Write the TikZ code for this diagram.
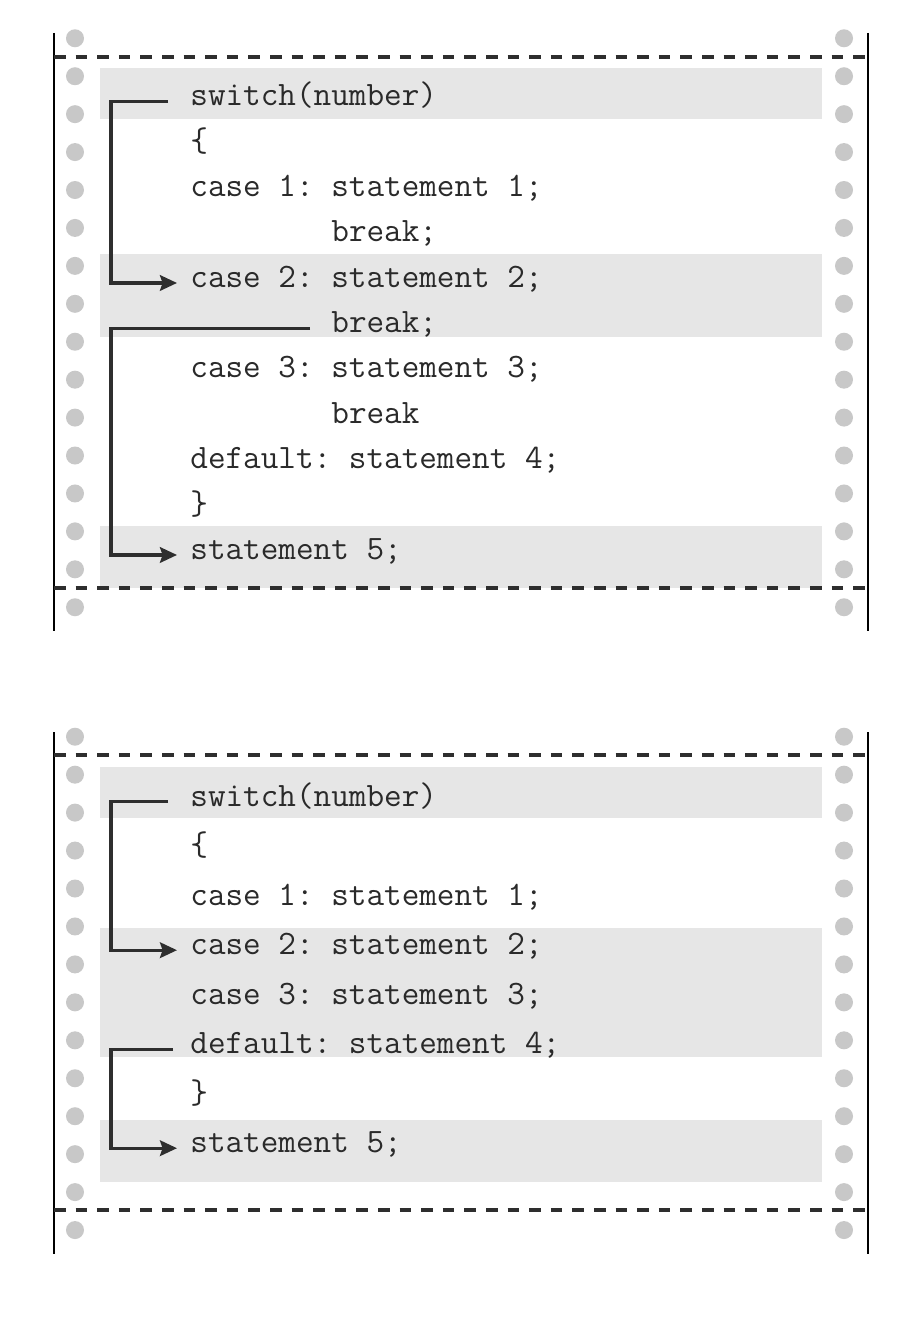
\documentclass[tikz,border=0pt]{standalone}
\usepackage{fontspec}
\setmonofont{Latin Modern Mono}
\usetikzlibrary{arrows.meta}
\definecolor{band}{HTML}{E6E6E6}
\definecolor{dotc}{HTML}{C8C8C8}
\definecolor{ink}{HTML}{2E2E2E}
\definecolor{txt}{HTML}{2A2A2A}
\tikzset{
  code/.style={font=\ttfamily\fontsize{17.1}{19}\selectfont, text=txt, anchor=base west, inner xsep=6.5pt, inner ysep=0pt},
  conn/.style={draw=ink, line width=1.6pt, -{Stealth[length=8.5pt,width=7.8pt,inset=1.3pt]}},
  edge/.style={draw=black, line width=1.3pt},
  perf/.style={draw=ink, line width=1.9pt, dash pattern=on 5.8pt off 5pt},
  hole/.style={fill=dotc, draw=none},
  bandbox/.style={fill=band, draw=none}
}
\begin{document}
\begin{tikzpicture}[x=0.5pt,y=-0.5pt]
\useasboundingbox (0,0) rectangle (914,1331);
\fill[white] (0,0) rectangle (914,1331);
% ---------- top panel ----------
\fill[bandbox] (100,68) rectangle (822,119);
\fill[bandbox] (100,254) rectangle (822,337);
\fill[bandbox] (100,526) rectangle (822,588);
\foreach \k in {0,...,15}{
  \fill[hole] (75,38.3+37.93*\k) circle (9);
  \fill[hole] (844,38.3+37.93*\k) circle (9);
}
\draw[edge] (54,33) -- (54,631);
\draw[edge] (868,33) -- (868,631);
\draw[perf] (54,57) -- (868,57);
\draw[perf] (54,588) -- (868,588);

\node[code] (t1) at (177,106) {switch(number)};
\node[code] (t2) at (177,151.3) {\{};
\node[code] (t3) at (177,196.6) {case 1: statement 1;};
\node[code] (t4) at (318,242) {break;};
\node[code] (t5) at (177,287.3) {case 2: statement 2;};
\node[code] (t6) at (318,332.6) {break;};
\node[code] (t7) at (177,378) {case 3: statement 3;};
\node[code] (t8) at (318,423.3) {break};
\node[code] (t9) at (177,468.6) {default: statement 4;};
\node[code] (t10) at (177,514) {\}};
\node[code] (t11) at (177,559.3) {statement 5;};

\draw[conn] ([xshift=-4.5pt]t1.mid west) -- ([xshift=-33pt]t1.mid west) |- (t5.mid west);
\draw[conn] ([xshift=-4pt]t6.mid west) -- ([xshift=-103.5pt]t6.mid west) |- (t11.mid west);

% ---------- bottom panel ----------
\fill[bandbox] (100,767) rectangle (822,818);
\fill[bandbox] (100,928) rectangle (822,1057);
\fill[bandbox] (100,1120) rectangle (822,1182);
\foreach \k in {0,...,13}{
  \fill[hole] (75,736.7+37.95*\k) circle (9);
  \fill[hole] (844,736.7+37.95*\k) circle (9);
}
\draw[edge] (54,732) -- (54,1254);
\draw[edge] (868,732) -- (868,1254);
\draw[perf] (54,755) -- (868,755);
\draw[perf] (54,1210) -- (868,1210);

\node[code] (b1) at (177,806) {switch(number)};
\node[code] (b2) at (177,855.5) {\{};
\node[code] (b3) at (177,905) {case 1: statement 1;};
\node[code] (b4) at (177,954.5) {case 2: statement 2;};
\node[code] (b5) at (177,1004) {case 3: statement 3;};
\node[code] (b6) at (177,1053.5) {default: statement 4;};
\node[code] (b7) at (177,1103) {\}};
\node[code] (b8) at (177,1152.5) {statement 5;};

\draw[conn] ([xshift=-4.5pt]b1.mid west) -- ([xshift=-33pt]b1.mid west) |- (b4.mid west);
\draw[conn] ([xshift=-2pt]b6.mid west) -- ([xshift=-33pt]b6.mid west) |- (b8.mid west);
\end{tikzpicture}
\end{document}
